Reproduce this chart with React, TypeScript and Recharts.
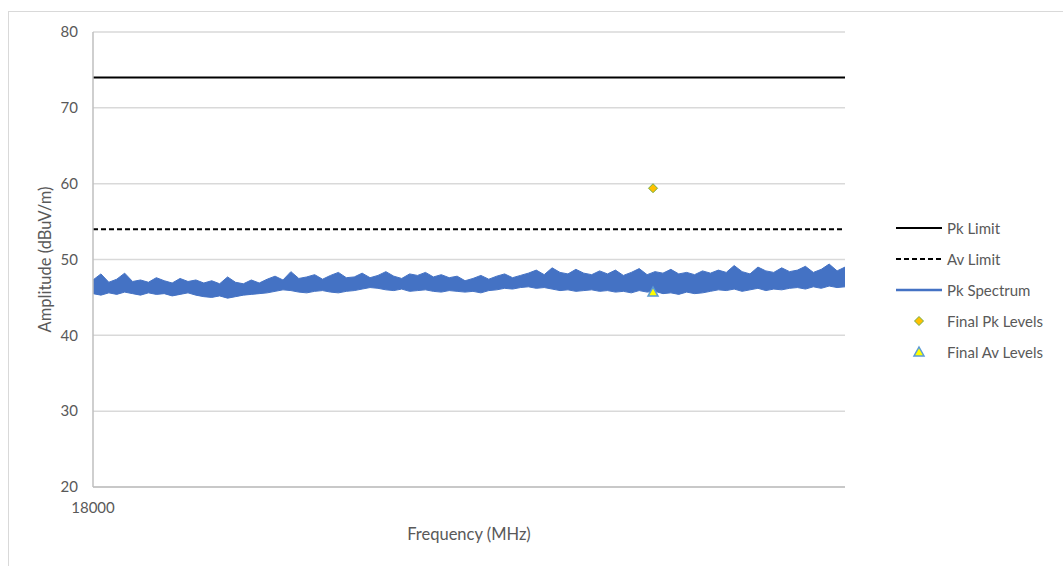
import React from "react";
import {
  Area,
  CartesianGrid,
  ComposedChart,
  Line,
  Scatter,
  XAxis,
  YAxis,
} from "recharts";

// sweep 18 - 26.5 GHz, one sample per trace bin
const sweepStart = 18000;
const sweepStop = 26500;

const pkLimit = 74;
const avLimit = 54;

// upper / lower envelope of the peak trace
const spectrumHigh = [
  47.3, 48.1, 47.0, 47.4, 48.2, 47.1, 47.3, 47.0, 47.6, 47.2, 46.9, 47.5, 47.1, 47.3,
  46.9, 47.2, 46.8, 47.7, 47.0, 46.8, 47.3, 46.9,
  47.4, 47.8, 47.3, 48.4, 47.5, 47.7, 48.0, 47.4, 47.9, 48.3, 47.6,
  47.7, 48.2, 47.6, 47.9, 48.4, 47.8, 47.5, 48.1, 47.9, 48.3, 47.7, 48.0, 47.6, 47.8,
  47.2, 47.5, 47.9, 47.4, 47.8, 48.1, 47.6, 47.9,
  48.2, 48.6, 48.0, 48.9, 48.3, 48.1, 48.7, 48.2, 48.0, 48.5,
  48.1, 48.6, 47.9, 48.3, 48.8, 48.0, 48.4, 48.2, 48.7, 48.1, 48.3, 48.0, 48.5,
  48.2, 48.6, 48.3, 49.2, 48.4, 48.1, 49.0, 48.5, 48.3, 48.9, 48.4,
  48.6, 49.1, 48.3, 48.7, 49.4, 48.5, 49.0,
];
const spectrumLow = [
  45.5, 45.3, 45.6, 45.4, 45.7, 45.5, 45.3, 45.6, 45.4, 45.5, 45.2, 45.4, 45.6, 45.3,
  45.1, 45.0, 45.2, 44.9, 45.1, 45.3, 45.4, 45.5,
  45.6, 45.8, 46.0, 45.9, 45.7, 45.6, 45.8, 45.9, 45.7, 45.6, 45.8,
  45.9, 46.1, 46.3, 46.2, 46.0, 45.9, 46.1, 45.8, 45.9, 46.0, 45.8, 45.7, 45.9, 45.8,
  45.7, 45.8, 45.6, 45.9, 46.0, 46.2, 46.1, 46.3,
  46.4, 46.2, 46.3, 46.1, 45.9, 46.0, 45.8, 45.9, 46.0, 45.8,
  45.9, 45.7, 45.8, 45.6, 45.9, 45.7, 45.8, 45.5, 45.6, 45.4, 45.7, 45.5, 45.6,
  45.8, 46.0, 45.9, 46.1, 45.8, 46.0, 46.2, 45.9, 46.1, 46.0, 46.2,
  46.3, 46.1, 46.4, 46.2, 46.5, 46.3, 46.4,
];

const finalFreqs = [24330];
const finalPkLevels = [59.4];
const finalAvLevels = [45.7];

const yTicks = [20, 30, 40, 50, 60, 70, 80];
const xTicks = [18000];

const step = (sweepStop - sweepStart) / (spectrumHigh.length - 1);
const rows = spectrumHigh.map((hi, i) => ({
  freq: sweepStart + i * step,
  band: [spectrumLow[i], hi],
  pkLimit,
  avLimit,
}));
const pkPoints = finalFreqs.map((f, i) => ({ freq: f, level: finalPkLevels[i] }));
const avPoints = finalFreqs.map((f, i) => ({ freq: f, level: finalAvLevels[i] }));

const FONT = "Lato, 'Open Sans', sans-serif";
const TXT = "#595959";
const BLUE = "#4472C4";

const Diamond = (props: any) => {
  const { cx, cy } = props;
  const r = 4.5;
  return (
    <path
      d={`M${cx},${cy - r}L${cx + r},${cy}L${cx},${cy + r}L${cx - r},${cy}Z`}
      fill="#FFC000"
      stroke="#70AD47"
      strokeWidth={1}
    />
  );
};

const Tri = (props: any) => {
  const { cx, cy } = props;
  return (
    <path
      d={`M${cx},${cy - 5}L${cx + 5},${cy + 4}L${cx - 5},${cy + 4}Z`}
      fill="#FFFF00"
      stroke="#5B9BD5"
      strokeWidth={1.5}
    />
  );
};

const legendItems = [
  { name: "Pk Limit", kind: "solid" },
  { name: "Av Limit", kind: "dash" },
  { name: "Pk Spectrum", kind: "blue" },
  { name: "Final Pk Levels", kind: "diamond" },
  { name: "Final Av Levels", kind: "tri" },
];

const LegendBox = () => (
  <div style={{ position: "absolute", left: 895, top: 212, fontFamily: FONT, fontSize: 15, color: TXT }}>
    {legendItems.map((it) => (
      <div key={it.name} style={{ height: 31, display: "flex", alignItems: "center" }}>
        <svg width={52} height={14}>
          {it.kind === "solid" && <line x1={1} x2={47} y1={7} y2={7} stroke="#000" strokeWidth={2} />}
          {it.kind === "dash" && (
            <line x1={1} x2={47} y1={7} y2={7} stroke="#000" strokeWidth={2} strokeDasharray="5 3" />
          )}
          {it.kind === "blue" && <line x1={1} x2={47} y1={7} y2={7} stroke={BLUE} strokeWidth={2.5} />}
          {it.kind === "diamond" && <Diamond cx={24} cy={7} />}
          {it.kind === "tri" && <Tri cx={24} cy={7} />}
        </svg>
        <span>{it.name}</span>
      </div>
    ))}
  </div>
);

export default function App() {
  return (
    <div style={{ position: "absolute", left: 0, top: 0, width: 1063, height: 566, background: "#fff", overflow: "hidden" }}>
      <div
        style={{
          position: "absolute",
          left: 8,
          top: 11,
          width: 1100,
          height: 600,
          borderLeft: "1px solid #d9d9d9",
          borderTop: "1px solid #d9d9d9",
        }}
      />
      <ComposedChart
        width={1063}
        height={566}
        data={rows}
        margin={{ top: 32, right: 218, bottom: 0, left: 0 }}
        style={{ position: "absolute", left: 0, top: 0, fontFamily: FONT }}
      >
        <CartesianGrid vertical={false} stroke="#d9d9d9" strokeWidth={1.5} />
        <XAxis
          dataKey="freq"
          type="number"
          domain={[sweepStart, sweepStop]}
          ticks={xTicks}
          height={79}
          stroke="#bfbfbf"
          strokeWidth={1.5}
          tickLine={false}
          tickMargin={9}
          tick={{ fill: TXT, fontSize: 15 }}
          label={{ value: "Frequency (MHz)", position: "insideBottom", offset: 26, fill: TXT, fontSize: 16.5 }}
        />
        <YAxis
          type="number"
          domain={[20, 80]}
          ticks={yTicks}
          allowDataOverflow
          width={93}
          stroke="#bfbfbf"
          strokeWidth={1.5}
          tickLine={false}
          tickMargin={9}
          tick={{ fill: TXT, fontSize: 15 }}
          label={{
            content: (p: any) => {
              const cx = 45;
              const cy = p.viewBox.y + p.viewBox.height / 2;
              return (
                <text
                  x={cx}
                  y={cy}
                  transform={`rotate(-90 ${cx} ${cy})`}
                  textAnchor="middle"
                  dominantBaseline="central"
                  fill={TXT}
                  fontSize={16.5}
                  fontFamily={FONT}
                >
                  Amplitude (dBuV/m)
                </text>
              );
            },
          }}
        />
        <Area
          dataKey="band"
          type="linear"
          fill={BLUE}
          fillOpacity={1}
          stroke={BLUE}
          strokeWidth={1}
          isAnimationActive={false}
          dot={false}
          activeDot={false}
        />
        <Line dataKey="pkLimit" stroke="#000" strokeWidth={2} dot={false} isAnimationActive={false} />
        <Line
          dataKey="avLimit"
          stroke="#000"
          strokeWidth={2}
          strokeDasharray="5 3"
          dot={false}
          isAnimationActive={false}
        />
        <Scatter data={pkPoints} dataKey="level" shape={<Diamond />} isAnimationActive={false} />
        <Scatter data={avPoints} dataKey="level" shape={<Tri />} isAnimationActive={false} />
      </ComposedChart>
      <LegendBox />
    </div>
  );
}
